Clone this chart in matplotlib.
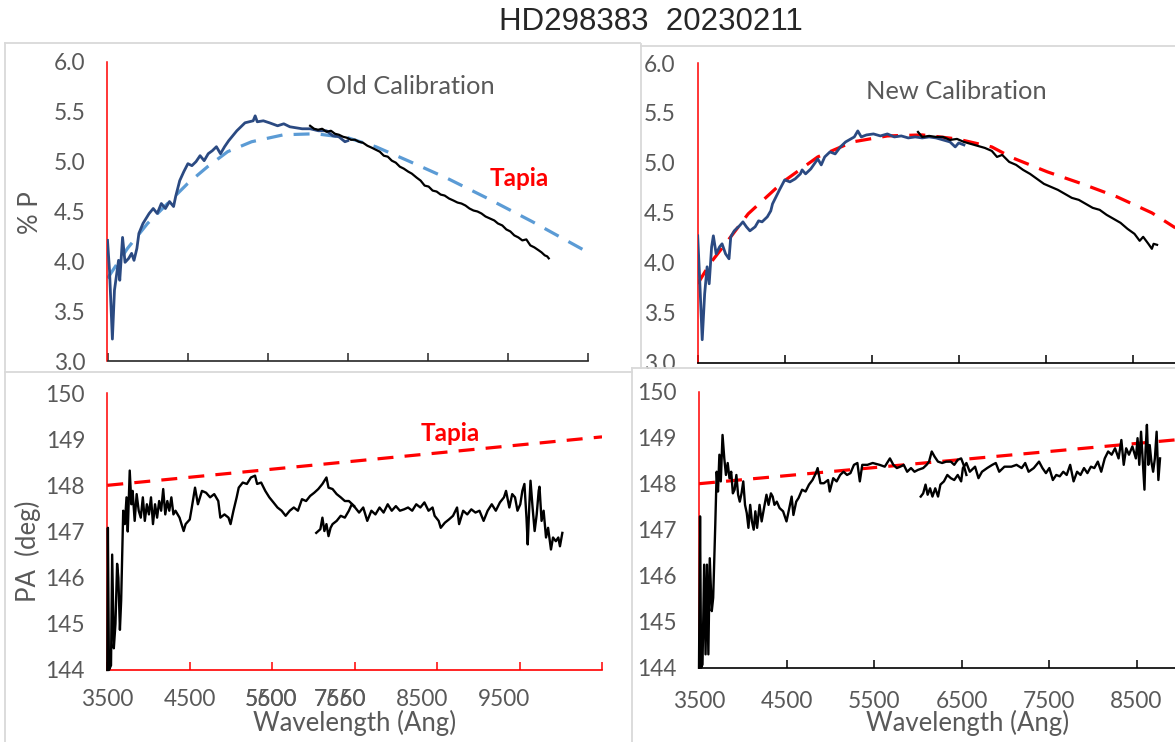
import matplotlib
matplotlib.use("Agg")
import matplotlib.pyplot as plt
from matplotlib.lines import Line2D
from matplotlib.patches import Rectangle

plt.rcParams['font.family'] = ['Lato', 'DejaVu Sans']

# ---------------- data ----------------
title = "HD298383  20230211"

# Old calibration: %P, blue arm
old_p_blue_wl = [3500, 3525, 3561, 3587, 3638, 3653, 3688, 3719, 3765, 3801, 3831, 3867, 3892,
                 3943, 4020, 4071, 4121, 4172, 4223, 4274, 4325, 4351, 4402, 4453, 4504, 4554,
                 4605, 4656, 4707, 4758, 4809, 4860, 4911, 4962, 5013, 5064, 5115, 5166, 5217,
                 5268, 5319, 5344, 5370, 5446, 5522, 5624, 5701, 5777, 5853, 5930, 6032, 6134,
                 6235, 6312, 6388, 6465, 6500]
old_p_blue = [4.21, 3.91, 3.22, 3.71, 4.01, 3.81, 4.24, 3.99, 4.03, 4.08, 4.01, 4.13, 4.28,
              4.38, 4.48, 4.53, 4.48, 4.58, 4.53, 4.60, 4.55, 4.65, 4.81, 4.90, 4.98, 4.96,
              5.00, 5.06, 5.01, 5.08, 5.11, 5.15, 5.08, 5.15, 5.21, 5.26, 5.31, 5.35, 5.39,
              5.40, 5.41, 5.46, 5.40, 5.41, 5.39, 5.36, 5.38, 5.35, 5.34, 5.33, 5.33, 5.31,
              5.31, 5.26, 5.25, 5.20, 5.21]

# Old calibration: %P, red arm
old_p_red_wl = [6030, 6080, 6130, 6180, 6235, 6290, 6340, 6390, 6440, 6490, 6540, 6590, 6640,
                6690, 6745, 6800, 6850, 6900, 6950, 7000, 7050, 7100, 7150, 7200, 7255, 7300,
                7360, 7410, 7460, 7510, 7560, 7610, 7660, 7710, 7765, 7820, 7870, 7920, 7970,
                8020, 8070, 8120, 8170, 8220, 8275, 8330, 8375, 8430, 8480, 8530, 8580, 8630,
                8680, 8730, 8780, 8830, 8885, 8920, 8960, 8990, 9010]
old_p_red = [5.36, 5.33, 5.32, 5.33, 5.30, 5.31, 5.28, 5.27, 5.25, 5.24, 5.22, 5.22, 5.20,
             5.19, 5.16, 5.14, 5.12, 5.10, 5.06, 5.05, 5.01, 4.99, 4.95, 4.93, 4.90, 4.88,
             4.84, 4.81, 4.76, 4.75, 4.71, 4.70, 4.67, 4.66, 4.63, 4.61, 4.59, 4.58, 4.56,
             4.53, 4.51, 4.50, 4.48, 4.45, 4.43, 4.41, 4.38, 4.36, 4.32, 4.30, 4.26, 4.24,
             4.21, 4.22, 4.16, 4.14, 4.11, 4.09, 4.06, 4.05, 4.03]

# Tapia %P curve shown with the old calibration
tapia_p_old_wl = [3500, 3750, 4000, 4250, 4500, 4750, 5000, 5300, 5700, 6100, 6500, 6850,
                  7250, 7750, 8250, 8800, 9500]
tapia_p_old = [3.83, 4.13, 4.38, 4.58, 4.78, 4.95, 5.10, 5.20, 5.27, 5.28, 5.24, 5.15,
               5.01, 4.83, 4.63, 4.40, 4.09]

# New calibration: %P, blue arm
new_p_blue_wl = [3500, 3520, 3552, 3580, 3608, 3632, 3660, 3680, 3712, 3752, 3780, 3820, 3860,
                 3880, 3920, 3980, 4020, 4060, 4100, 4160, 4200, 4240, 4300, 4340, 4360, 4400,
                 4440, 4500, 4560, 4620, 4680, 4700, 4740, 4800, 4840, 4880, 4920, 4960, 5020,
                 5080, 5140, 5200, 5260, 5300, 5340, 5380, 5440, 5520, 5600, 5680, 5760, 5840,
                 5920, 6000, 6080, 6160, 6240, 6320, 6400, 6460, 6500, 6560]
new_p_blue = [4.27, 3.89, 3.23, 3.69, 3.96, 3.79, 4.16, 4.27, 4.09, 4.16, 4.19, 4.09, 4.04,
              4.26, 4.32, 4.37, 4.41, 4.36, 4.32, 4.36, 4.42, 4.41, 4.46, 4.52, 4.59, 4.66,
              4.73, 4.83, 4.81, 4.84, 4.89, 4.93, 4.89, 4.94, 4.99, 5.04, 4.98, 5.06, 5.11,
              5.09, 5.16, 5.21, 5.24, 5.26, 5.32, 5.26, 5.28, 5.29, 5.27, 5.29, 5.26, 5.27,
              5.25, 5.26, 5.25, 5.26, 5.25, 5.23, 5.21, 5.16, 5.20, 5.18]

# New calibration: %P, red arm
new_p_red_wl = [6032, 6080, 6160, 6240, 6320, 6400, 6480, 6560, 6640, 6720, 6800, 6880, 6940,
                7000, 7080, 7160, 7240, 7320, 7400, 7480, 7560, 7640, 7720, 7800, 7880, 7960,
                8040, 8120, 8200, 8280, 8360, 8440, 8520, 8580, 8620, 8680, 8720, 8740, 8780]
new_p_red = [5.31, 5.26, 5.27, 5.26, 5.26, 5.23, 5.24, 5.21, 5.19, 5.17, 5.15, 5.12, 5.06,
             5.08, 5.01, 4.98, 4.93, 4.89, 4.84, 4.79, 4.76, 4.73, 4.69, 4.65, 4.63, 4.59,
             4.55, 4.53, 4.48, 4.44, 4.40, 4.34, 4.29, 4.22, 4.26, 4.19, 4.14, 4.19, 4.18]

# Tapia %P curve shown with the new calibration
tapia_p_new_wl = [3500, 3640, 3880, 4080, 4480, 4880, 5280, 5680, 6080, 6480, 6880, 7120,
                  7520, 7920, 8320, 8720, 8990]
tapia_p_new = [3.79, 3.99, 4.26, 4.49, 4.81, 5.06, 5.21, 5.27, 5.28, 5.24, 5.16, 5.05,
               4.91, 4.79, 4.66, 4.50, 4.35]

# Old calibration: PA, blue arm
old_pa_blue_wl = [3500, 3507, 3520, 3545, 3559, 3579, 3599, 3619, 3634, 3653, 3668, 3693, 3713,
                  3733, 3748, 3772, 3792, 3807, 3832, 3856, 3881, 3906, 3931, 3955, 3980, 4005,
                  4030, 4054, 4079, 4104, 4129, 4153, 4178, 4203, 4228, 4252, 4277, 4302, 4327,
                  4376, 4426, 4450, 4500, 4525, 4564, 4599, 4648, 4698, 4747, 4797, 4846, 4871,
                  4921, 4970, 4995, 5030, 5069, 5094, 5143, 5193, 5242, 5292, 5317, 5366, 5416,
                  5465, 5515, 5564, 5614, 5663, 5713, 5762, 5812, 5861, 5911, 5960, 6010, 6059,
                  6109, 6158, 6183, 6232, 6282, 6331, 6381, 6430, 6495]
old_pa_blue = [144.0, 147.08, 144.0, 144.1, 146.5, 144.47, 145.0, 146.3, 146.0, 144.87, 145.5,
               147.45, 147.16, 147.74, 147.0, 148.32, 147.59, 147.88, 147.23, 147.81, 147.45,
               147.30, 147.74, 147.23, 147.59, 147.37, 147.74, 147.16, 147.59, 147.30, 147.66,
               147.45, 147.92, 147.37, 147.66, 147.45, 147.74, 147.37, 147.45, 147.30, 147.01,
               147.16, 147.26, 147.52, 147.95, 147.59, 147.88, 147.84, 147.74, 147.81, 147.66,
               147.30, 147.37, 147.30, 147.16, 147.45, 147.74, 147.95, 148.06, 148.03, 148.17,
               148.21, 148.03, 148.06, 147.88, 147.74, 147.63, 147.52, 147.45, 147.34, 147.45,
               147.52, 147.45, 147.70, 147.66, 147.77, 147.84, 147.92, 148.03, 148.17, 147.95,
               147.92, 147.81, 147.74, 147.66, 147.66, 147.55]

# Old calibration: PA, red arm
old_pa_red_wl = [6034, 6084, 6109, 6133, 6158, 6183, 6208, 6232, 6282, 6331, 6381, 6430, 6465,
                 6505, 6554, 6604, 6653, 6703, 6752, 6802, 6851, 6901, 6950, 7000, 7049, 7099,
                 7148, 7198, 7247, 7297, 7346, 7396, 7445, 7470, 7519, 7544, 7594, 7643, 7693,
                 7742, 7767, 7816, 7866, 7915, 7965, 8014, 8064, 8113, 8163, 8212, 8262, 8311,
                 8336, 8376, 8411, 8445, 8475, 8509, 8534, 8559, 8584, 8599, 8619, 8633, 8658,
                 8683, 8708, 8732, 8742, 8767, 8792, 8821, 8846, 8881, 8906, 8940, 8970, 8990,
                 9019]
old_pa_red = [146.97, 147.05, 147.30, 147.01, 147.16, 146.90, 147.08, 147.16, 147.23, 147.34,
              147.30, 147.45, 147.59, 147.52, 147.41, 147.52, 147.23, 147.45, 147.37, 147.52,
              147.41, 147.59, 147.45, 147.55, 147.45, 147.48, 147.52, 147.45, 147.59, 147.52,
              147.63, 147.45, 147.52, 147.34, 147.23, 147.08, 147.19, 147.26, 147.34, 147.52,
              147.16, 147.45, 147.37, 147.48, 147.41, 147.45, 147.23, 147.45, 147.59, 147.45,
              147.63, 147.74, 147.88, 147.52, 147.81, 147.74, 147.45, 147.59, 147.88, 148.03,
              147.30, 146.72, 147.59, 148.10, 147.52, 147.01, 147.37, 147.88, 147.97, 147.23,
              147.45, 146.87, 147.08, 146.61, 146.87, 146.79, 146.87, 146.68, 146.97]

# New calibration: PA, blue arm
new_pa_blue_wl = [3500, 3512, 3524, 3540, 3559, 3575, 3591, 3607, 3623, 3646, 3662, 3686, 3702,
                  3717, 3733, 3749, 3769, 3789, 3808, 3828, 3848, 3868, 3887, 3907, 3927, 3947,
                  3966, 3986, 4006, 4026, 4046, 4065, 4085, 4105, 4125, 4144, 4164, 4192, 4216,
                  4243, 4271, 4295, 4322, 4342, 4362, 4389, 4421, 4461, 4500, 4532, 4559, 4579,
                  4611, 4638, 4678, 4718, 4757, 4797, 4836, 4856, 4888, 4927, 4975, 4994, 5034,
                  5073, 5113, 5152, 5192, 5231, 5271, 5310, 5338, 5366, 5425, 5485, 5564, 5623,
                  5682, 5721, 5761, 5800, 5840, 5879, 5923, 5963, 6002, 6062, 6101, 6129, 6160,
                  6192, 6231, 6279, 6326, 6378, 6417, 6457, 6496, 6524, 6556]
new_pa_blue = [144.0, 147.29, 144.0, 144.07, 146.24, 144.29, 146.24, 144.29, 146.38, 145.23,
               145.52, 147.11, 148.26, 147.83, 148.63, 148.05, 149.06, 148.55, 148.19, 148.45,
               148.12, 148.26, 147.79, 147.87, 148.19, 147.76, 147.61, 147.79, 148.05, 147.54,
               147.36, 147.04, 147.54, 147.18, 147.00, 147.40, 147.04, 147.54, 147.18, 147.47,
               147.76, 147.54, 147.79, 147.72, 147.54, 147.61, 147.47, 147.40, 147.18, 147.47,
               147.72, 147.32, 147.61, 147.69, 147.87, 147.83, 147.98, 148.08, 148.23, 148.34,
               148.01, 148.01, 148.08, 147.83, 148.12, 148.05, 148.19, 148.26, 148.19, 148.23,
               148.41, 148.45, 148.05, 148.41, 148.41, 148.45, 148.41, 148.37, 148.55, 148.41,
               148.34, 148.37, 148.41, 148.26, 148.34, 148.26, 148.30, 148.34, 148.41, 148.48,
               148.70, 148.59, 148.48, 148.45, 148.48, 148.48, 148.41, 148.52, 148.55, 148.41,
               148.19]

# New calibration: PA, red arm
new_pa_red_wl = [6034, 6062, 6089, 6113, 6141, 6168, 6200, 6232, 6259, 6299, 6338, 6378, 6417,
                 6457, 6496, 6516, 6556, 6595, 6655, 6694, 6734, 6793, 6852, 6892, 6931, 6991,
                 7070, 7129, 7188, 7228, 7267, 7326, 7386, 7425, 7465, 7504, 7544, 7583, 7623,
                 7663, 7702, 7742, 7781, 7821, 7860, 7900, 7939, 7979, 8018, 8058, 8097, 8137,
                 8176, 8216, 8255, 8295, 8327, 8354, 8382, 8414, 8453, 8493, 8512, 8532, 8552,
                 8572, 8591, 8603, 8619, 8635, 8651, 8670, 8690, 8710, 8730, 8750, 8769]
new_pa_red = [147.72, 147.79, 147.98, 147.76, 147.90, 147.72, 147.90, 147.72, 147.98, 148.05,
              148.19, 148.12, 148.08, 148.19, 148.05, 148.34, 148.45, 148.26, 148.37, 148.12,
              148.26, 148.34, 148.41, 148.45, 148.26, 148.37, 148.37, 148.41, 148.34, 148.45,
              148.26, 148.34, 148.48, 148.34, 148.23, 148.34, 148.08, 148.19, 148.16, 148.26,
              148.19, 148.41, 148.05, 148.26, 148.19, 148.34, 148.23, 148.37, 148.34, 148.48,
              148.26, 148.55, 148.70, 148.63, 148.77, 148.55, 148.95, 148.41, 148.77, 148.63,
              148.81, 148.55, 148.99, 148.41, 149.13, 148.48, 147.87, 148.70, 149.28, 148.41,
              148.84, 148.48, 148.26, 148.55, 149.13, 148.08, 148.55]

# Tapia PA line
tapia_pa_wl = [3500, 9500]
tapia_pa = [148.0, 149.05]

p_ticks = [3.0, 3.5, 4.0, 4.5, 5.0, 5.5, 6.0]
pa_ticks = [144, 145, 146, 147, 148, 149, 150]
wl_ticks_left = [3500, 4500, 5500, 6500, 7500, 8500, 9500]
wl_ticks_right = [3500, 4500, 5500, 6500, 7500, 8500]
# printed wavelength labels under the old-calibration PA axis
left_wl_labels = [["3500"], ["4500"], ["5500", "5600"], ["7560", "7650"], ["8500"], ["9500"]]

# ---------------- style ----------------
GRAY = '#595959'
NAVY = '#2B4A82'
LBLUE = '#5B9BD5'
RED = '#FF0000'
FRAME = '#D9D9D9'
TICK_FS = 16.3
LABEL_FS = 18.5
NOTE_FS = 18.3
TAPIA_FS = 17.5

W, H = 1175, 742
fig = plt.figure(figsize=(W / 100, H / 100), dpi=100)


def px_axes(x0, x1, ytop, ybot, z=1):
    ax = fig.add_axes([x0 / W, 1 - ybot / H, (x1 - x0) / W, (ybot - ytop) / H], zorder=z)
    ax.set_facecolor('none')
    return ax


def style(ax, xlim, ylim, yticks, xticks, fmt, bottom_color):
    ax.set_xlim(*xlim)
    ax.set_ylim(*ylim)
    for s in ('top', 'right'):
        ax.spines[s].set_visible(False)
    ax.spines['left'].set_color(RED)
    ax.spines['left'].set_linewidth(1.1)
    ax.spines['bottom'].set_color(bottom_color)
    ax.spines['bottom'].set_linewidth(1.2)
    ax.set_yticks(yticks)
    ax.set_yticklabels([fmt.format(v) for v in yticks])
    ax.set_xticks(xticks)
    ax.tick_params(axis='y', length=0, pad=16.0, labelsize=TICK_FS, labelcolor=GRAY)
    ax.tick_params(axis='x', direction='in', length=5.8, width=1.1, color=bottom_color,
                   pad=16.5, labelsize=TICK_FS, labelcolor=GRAY)


dash = dict(linestyle=(0, (5, 3.5)), linewidth=2.3)

# ---- top left: %P old calibration
ax1 = px_axes(107.5, 588, 62, 361)
style(ax1, (3500, 9500), (3.0, 6.0), p_ticks, wl_ticks_left, "{:.1f}", '#262626')
ax1.tick_params(axis='x', labelbottom=False)
ax1.plot(tapia_p_old_wl, tapia_p_old, color=LBLUE, **dash, zorder=2)
ax1.plot(old_p_blue_wl, old_p_blue, color=NAVY, lw=2.0, zorder=3)
ax1.plot(old_p_red_wl, old_p_red, color='black', lw=1.6, zorder=3)
ax1.text(0.63, 0.918, "Old Calibration", transform=ax1.transAxes, ha='center', va='center',
         fontsize=NOTE_FS, color=GRAY)
ax1.text(0.857, 0.61, "Tapia", transform=ax1.transAxes, ha='center', va='center',
         fontsize=TAPIA_FS, color=RED, fontweight='bold')

# ---- top right: %P new calibration
ax2 = px_axes(697.7, 1175, 63, 362.7)
style(ax2, (3500, 8986), (3.0, 6.0), p_ticks, wl_ticks_right, "{:.1f}", 'black')
ax2.tick_params(axis='x', labelbottom=False)
ax2.plot(tapia_p_new_wl, tapia_p_new, color=RED, **dash, zorder=2)
ax2.plot(new_p_blue_wl, new_p_blue, color=NAVY, lw=2.0, zorder=3)
ax2.plot(new_p_red_wl, new_p_red, color='black', lw=1.6, zorder=3)
ax2.text(0.542, 0.905, "New Calibration", transform=ax2.transAxes, ha='center', va='center',
         fontsize=NOTE_FS, color=GRAY)

# ---- bottom left: PA old calibration
ax3 = px_axes(107.3, 602, 393, 670, z=3)
style(ax3, (3500, 9500), (144, 150), pa_ticks, wl_ticks_left, "{:d}", RED)
ax3.tick_params(axis='x', labelbottom=False)
ax3.plot(tapia_pa_wl, tapia_pa, color=RED, **dash, zorder=2)
ax3.plot(old_pa_blue_wl, old_pa_blue, color='black', lw=1.7, zorder=3, clip_on=False)
ax3.plot(old_pa_red_wl, old_pa_red, color='black', lw=1.7, zorder=3)
ax3.text(0.693, 0.855, "Tapia", transform=ax3.transAxes, ha='center', va='center',
         fontsize=TAPIA_FS, color=RED, fontweight='bold')

# ---- bottom right: PA new calibration
ax4 = px_axes(699, 1175, 391.7, 667.7, z=3)
style(ax4, (3500, 8940), (144, 150), pa_ticks, wl_ticks_right, "{:d}", 'black')
ax4.set_xticklabels([str(v) for v in wl_ticks_right])
ax4.plot(tapia_pa_wl, tapia_pa, color=RED, **dash, zorder=2)
ax4.plot(new_pa_blue_wl, new_pa_blue, color='black', lw=1.7, zorder=3, clip_on=False)
ax4.plot(new_pa_red_wl, new_pa_red, color='black', lw=1.7, zorder=3)

# wavelength labels under the old-calibration PA axis
label_px = [107.3, 189.7, 271, 340, 422, 504]
for px, group in zip(label_px, left_wl_labels):
    for s in group:
        fig.text(px / W, 1 - 700 / H, s, ha='center', va='center', fontsize=TICK_FS, color=GRAY)

# axis titles
fig.text(30 / W, 1 - 213 / H, "% P", rotation=90, ha='center', va='center',
         fontsize=LABEL_FS, color=GRAY)
fig.text(28 / W, 1 - 551 / H, "PA  (deg)", rotation=90, ha='center', va='center',
         fontsize=LABEL_FS, color=GRAY)
fig.text(355 / W, 1 - 731 / H, "Wavelength (Ang)", ha='center', va='baseline',
         fontsize=LABEL_FS, color=GRAY)
fig.text(968 / W, 1 - 731 / H, "Wavelength (Ang)", ha='center', va='baseline',
         fontsize=LABEL_FS, color=GRAY)

# main title
fig.text(651 / W, 1 - 21.5 / H, title, ha='center', va='center', fontsize=22.5,
         color='#262626', fontstretch='condensed',
         family=['Liberation Sans Narrow', 'Liberation Sans', 'DejaVu Sans'])

# chart frames
fig.add_artist(Rectangle((633 / W, 0), 1 - 633 / W, 1 - 369 / H, transform=fig.transFigure,
                         facecolor='white', edgecolor='none', zorder=2))


def fline(x0, y0, x1, y1):
    fig.add_artist(Line2D([x0 / W, x1 / W], [1 - y0 / H, 1 - y1 / H], transform=fig.transFigure,
                          color=FRAME, lw=1.3, zorder=2.5))


fline(5, 43, 640, 43)
fline(5, 43, 5, 370)
fline(641, 44, 641, 368)
fline(641, 46, 1175, 46)
fline(5, 372, 632, 372)
fline(5, 372, 5, 742)
fline(632, 368, 632, 742)
fline(632, 368, 1175, 368)

fig.savefig("out.png", dpi=100)
